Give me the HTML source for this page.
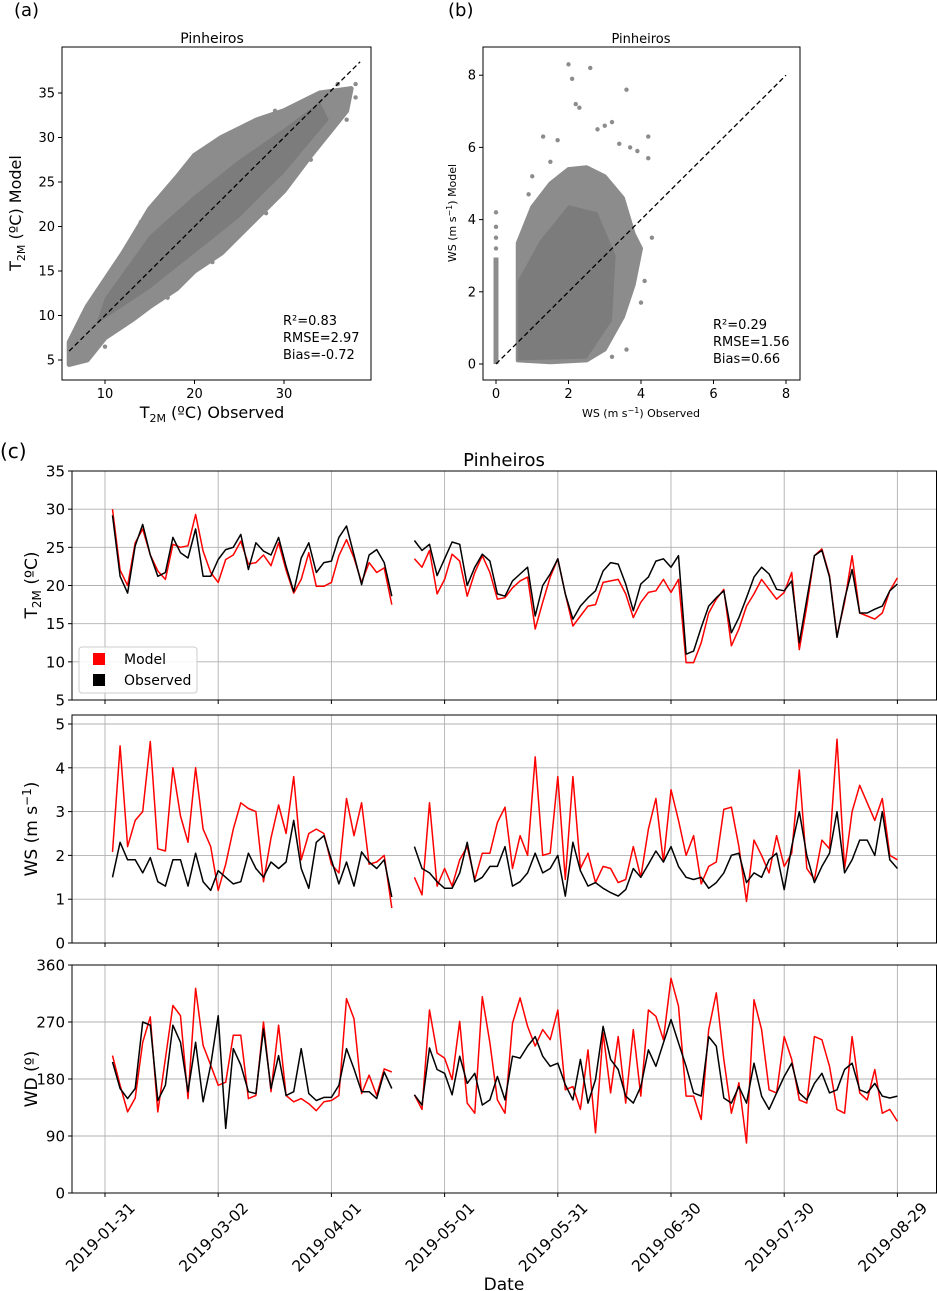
<!DOCTYPE html>
<html><head><meta charset="utf-8">
<style>
html,body{margin:0;padding:0;background:#fff;}
body{position:relative;}
svg{display:block;font-family:"DejaVu Sans","Liberation Sans",sans-serif;}
</style></head>
<body>
<svg id="fig" width="937" height="1291" viewBox="0 0 937 1291" xmlns="http://www.w3.org/2000/svg">
<rect width="937" height="1291" fill="#fff"/>
<g id="pa"></g>
<g id="pb"></g>
<g id="pc"></g>
</svg>
<script>
// ---------- Panel (a) data ----------
const aCloud = [[6,4.5],[8,5],[10,7.5],[13,9.5],[15,11],[18,13],[20,15],[23,17],[25,19],[28,22],[30,24],[33,28],[35,30.5],[37,33],[37.5,35.5],[34,35],[32,34],[30,33],[27,32],[25,31],[23,30],[20,28],[18,25.5],[15,22],[12,17],[10,14],[8,11],[6,7]];
const aCore = [[9,9],[15,13],[20,17],[25,21],[30,26],[35,32],[34,34],[30,31],[25,27.5],[20,23.5],[15,19],[10,12]];
const aPts = [[6,4.5],[6.5,5.5],[7,6],[8,9],[9,12],[10,6.5],[11,15.5],[14,20.5],[16,23],[19,26.5],[24,30.5],[29,33],[36,36],[38,34.5],[37,32],[38,36],[33,27.5],[28,21.5],[22,16],[17,12]];
// ---------- Panel (b) data ----------
const bCloud = [[0.6,0.1],[1.5,0.05],[2.5,0.1],[3,0.4],[3.5,1.3],[3.8,2.2],[4,3.2],[3.8,3.6],[3.5,4.6],[3,5.2],[2.5,5.45],[2,5.4],[1.5,5],[1,4.35],[0.6,3.35]];
const bCore = [[0.6,0.1],[2.5,0.15],[3.2,1.2],[3.3,3],[2.8,4.2],[2,4.4],[1.2,3.4],[0.6,2.3]];
const bColumn = [0, 2.95];
const bPts = [[0,3.2],[0,3.5],[0,3.8],[0,4.2],[1.3,6.3],[1.5,5.6],[1.7,6.2],[2.0,8.3],[2.1,7.9],[2.2,7.2],[2.3,7.1],[2.6,8.2],[2.8,6.5],[3.0,6.6],[3.2,6.7],[3.4,6.1],[3.6,7.6],[3.7,6.0],[3.9,5.9],[4.2,5.7],[4.3,3.5],[4.1,2.3],[4.0,1.7],[3.6,0.4],[3.2,0.2],[1.0,5.2],[0.9,4.7],[4.2,6.3]];
// ---------- Panel (c) data ----------
const dateTicks = ["2019-01-31","2019-03-02","2019-04-01","2019-05-01","2019-05-31","2019-06-30","2019-07-30","2019-08-29"];
const dateTickDays = [0,30,60,90,120,150,180,210];
const seg1Start = 2, seg2Start = 82, dayStep = 2;
const tModel1 = [30,22,20,25.6,27.4,24,21.9,20.8,25.4,25,25.2,29.3,24.5,21.7,20.4,23.4,24,25.8,22.8,23,24,22.6,25.6,22,19,20.8,24.3,19.9,19.9,20.4,23.9,26,23.6,20.4,23,21.7,22.3,17.5];
const tObs1   = [29.2,21.2,19,25.2,28,24,21.2,21.7,26.3,24.3,23.6,27.4,21.2,21.2,23.4,24.7,25,26.7,22.1,25.6,24.5,24,26.3,22.5,19.2,23.6,25.6,21.7,23,23.2,26.3,27.8,24,20.1,24,24.7,23,18.6];
const tModel2 = [23.5,22.4,24.6,18.9,20.8,24.1,23.2,18.6,21.7,23.9,21.7,18.2,18.4,19.7,20.6,21.1,14.3,17.8,21.1,23.5,18.9,14.7,16,17.3,17.5,20.4,20.6,20.8,18.9,15.8,17.8,19.1,19.3,20.8,19.1,20.8,9.9,9.9,12.5,16.4,18.2,19.5,12.1,14.3,17.3,18.9,20.8,19.5,18.2,19.1,21.7,11.6,17.3,23.9,24.8,21.3,13.4,17.8,23.9,16.4,16,15.6,16.4,19.3,21];
const tObs2   = [25.9,24.6,25.4,21.3,23.5,25.7,25.4,20,22.4,24.1,23.2,18.9,18.6,20.6,21.5,22.4,16,20,21.5,23.5,18.9,15.6,17.3,18.4,19.3,21.9,23,22.8,20.2,16.7,20.2,21.1,23.2,23.5,22.4,23.9,11,11.4,14.5,17.3,18.4,19.3,13.8,15.8,18.4,21.1,22.4,21.5,19.5,19.3,20.6,12.5,18.2,23.9,24.6,21.1,13.2,18.2,22.1,16.4,16.4,16.9,17.3,19.3,20.2];
const wModel1 = [2.08,4.5,2.2,2.8,3.0,4.6,2.15,2.1,4,2.9,2.3,4,2.6,2.2,1.2,1.8,2.6,3.2,3.07,3.0,1.4,2.4,3.15,2.5,3.8,1.9,2.5,2.6,2.5,1.8,1.6,3.3,2.45,3.2,1.8,1.85,2.0,0.8];
const wObs1   = [1.5,2.3,1.9,1.9,1.6,1.95,1.4,1.3,1.9,1.9,1.3,2.05,1.4,1.2,1.65,1.5,1.35,1.4,2.05,1.7,1.5,1.85,1.7,1.85,2.8,1.7,1.25,2.3,2.45,1.9,1.35,1.85,1.3,2.08,1.85,1.7,1.9,1.05];
const wModel2 = [1.5,1.1,3.2,1.3,1.7,1.3,1.9,2.2,1.45,2.05,2.05,2.75,3.1,1.7,2.45,2.0,4.25,2.0,2.05,3.8,1.45,3.8,1.7,2.05,1.38,1.75,1.7,1.38,1.45,2.2,1.5,2.6,3.3,1.85,3.5,2.8,2.0,2.45,1.35,1.75,1.85,3.05,3.1,2.2,0.95,2.35,2.0,1.6,2.45,1.75,2.05,3.95,1.7,1.45,2.35,2.15,4.65,1.7,3.0,3.6,3.2,2.8,3.3,2.0,1.9];
const wObs2   = [2.2,1.7,1.6,1.4,1.25,1.25,1.6,2.3,1.4,1.5,1.75,1.75,2.2,1.3,1.4,1.6,2.05,1.6,1.7,2.0,1.07,2.3,1.65,1.3,1.38,1.25,1.15,1.07,1.22,1.7,1.5,1.8,2.1,1.85,2.2,1.75,1.5,1.45,1.5,1.25,1.38,1.6,2.0,2.05,1.38,1.6,1.5,1.9,2.05,1.22,2.2,3.0,2.0,1.38,1.75,2.05,3.0,1.6,1.9,2.35,2.35,2.0,3.0,1.9,1.7];
const dModel1 = [217,170,128,150,238,278,128,212,296,280,149,323,233,202,170,175,249,249,149,154,270,160,265,154,144,149,141,130,144,146,154,307,275,157,186,154,196,191];
const dObs1   = [207,165,149,165,270,265,146,170,265,238,160,238,144,202,280,102,228,202,160,157,259,165,217,154,160,228,157,146,151,151,170,228,196,160,160,149,191,165];
const dModel2 = [155,132,289,221,213,179,271,142,126,310,237,147,126,268,308,263,232,258,242,289,163,168,132,226,95,253,158,247,142,258,153,289,279,242,339,295,153,153,116,258,316,211,126,174,79,305,258,163,158,247,211,147,142,247,242,200,132,126,247,158,147,195,126,132,113];
const dObs2   = [155,139,229,195,189,155,216,173,189,139,147,184,147,216,213,232,247,216,200,205,171,147,211,142,179,263,211,195,153,142,168,226,200,237,274,237,200,158,153,247,232,150,142,168,142,205,153,132,158,184,205,158,147,173,189,158,163,195,205,163,158,173,153,150,153];

const NS = "http://www.w3.org/2000/svg";
function mk(parent, tag, attrs, text){
  const e = document.createElementNS(NS, tag);
  for (const k in attrs) e.setAttribute(k, attrs[k]);
  if (text !== undefined) e.textContent = text;
  parent.appendChild(e);
  return e;
}
const GREY = "#8c8c8c", CORE = "#7c7c7c", GRID = "#b0b0b0";

// ---------- Panel (a) ----------
(function(){
  const g = document.getElementById('pa');
  const xa = v => 15.5 + v*8.95, ya = v => 360 - (v-5)*8.9;
  const poly = mk(g,'polygon',{points:aCloud.map(p=>xa(p[0])+','+ya(p[1])).join(' '),fill:GREY,stroke:GREY,'stroke-width':5,'stroke-linejoin':'round'});
  
  
  const core = mk(g,'polygon',{points:aCore.map(p=>xa(p[0])+','+ya(p[1])).join(' '),fill:CORE});
  
  
  aPts.forEach(p=>{
    const c = mk(g,'circle',{cx:xa(p[0]),cy:ya(p[1]),r:2.2,fill:GREY});
    
    
  });
  const l = mk(g,'line',{x1:xa(6),y1:ya(6),x2:xa(38.5),y2:ya(38.5),stroke:'#000','stroke-width':1.3,'stroke-dasharray':'5,3'});
  
  
  const fr = mk(g,'rect',{x:62,y:47,width:309,height:333,fill:'none',stroke:'#000','stroke-width':1});
  
  
  [10,20,30].forEach(v=>{
    mk(g,'line',{x1:xa(v),y1:380,x2:xa(v),y2:384,stroke:'#000'});
    const t = mk(g,'text',{x:xa(v),y:398,'font-size':13,'text-anchor':'middle'},String(v));
    
    
  });
  [5,10,15,20,25,30,35].forEach(v=>{
    mk(g,'line',{x1:58,y1:ya(v),x2:62,y2:ya(v),stroke:'#000'});
    const t = mk(g,'text',{x:55,y:ya(v)+4.5,'font-size':13,'text-anchor':'end'},String(v));
    
    
  });
})();
// ---------- Panel (b) ----------
(function(){
  const g = document.getElementById('pb');
  const xb = v => 496 + v*36.25, yb = v => 364 - v*36.1;
  const poly = mk(g,'polygon',{points:bCloud.map(p=>xb(p[0])+','+yb(p[1])).join(' '),fill:GREY,stroke:GREY,'stroke-width':4,'stroke-linejoin':'round'});
  
  
  const core = mk(g,'polygon',{points:bCore.map(p=>xb(p[0])+','+yb(p[1])).join(' '),fill:CORE});
  
  
  const col = mk(g,'rect',{x:xb(0)-2.5,y:yb(bColumn[1]),width:5,height:yb(bColumn[0])-yb(bColumn[1]),fill:GREY});
  
  
  bPts.forEach(p=>{
    const c = mk(g,'circle',{cx:xb(p[0]),cy:yb(p[1]),r:2.2,fill:GREY});
    
    
  });
  const l = mk(g,'line',{x1:xb(0),y1:yb(0),x2:xb(8),y2:yb(8),stroke:'#000','stroke-width':1.3,'stroke-dasharray':'5,3'});
  
  
  const fr = mk(g,'rect',{x:483,y:47,width:317,height:333,fill:'none',stroke:'#000','stroke-width':1});
  
  
  [0,2,4,6,8].forEach(v=>{
    mk(g,'line',{x1:xb(v),y1:380,x2:xb(v),y2:384,stroke:'#000'});
    const t = mk(g,'text',{x:xb(v),y:398,'font-size':13,'text-anchor':'middle'},String(v));
    
    
    mk(g,'line',{x1:479,y1:yb(v),x2:483,y2:yb(v),stroke:'#000'});
    const t2 = mk(g,'text',{x:476,y:yb(v)+4.5,'font-size':13,'text-anchor':'end'},String(v));
    
    
  });
})();
// ---------- Panel (c) ----------
(function(){
  const g = document.getElementById('pc');
  const xd = d => 105 + d*3.7733;
  const panels = [
    {name:'temperature', top:471, bot:700, y:v=>700-(v-5)*(229/30), ticks:[5,10,15,20,25,30,35], s:[[tModel1,tObs1],[tModel2,tObs2]]},
    {name:'wind-speed', top:715, bot:943, y:v=>943-v*43.8, ticks:[0,1,2,3,4,5], s:[[wModel1,wObs1],[wModel2,wObs2]]},
    {name:'wind-direction', top:965, bot:1193, y:v=>1193-v*(228/360), ticks:[0,90,180,270,360], s:[[dModel1,dObs1],[dModel2,dObs2]]}
  ];
  panels.forEach(p=>{
    const pg = mk(g,'g',{});
    
    
    dateTickDays.forEach(d=>{
      mk(pg,'line',{x1:xd(d),y1:p.top,x2:xd(d),y2:p.bot,stroke:GRID,'stroke-width':0.9});
      mk(pg,'line',{x1:xd(d),y1:p.bot,x2:xd(d),y2:p.bot+4,stroke:'#000'});
    });
    p.ticks.forEach(v=>{
      mk(pg,'line',{x1:72,y1:p.y(v),x2:937,y2:p.y(v),stroke:GRID,'stroke-width':0.9});
      mk(pg,'line',{x1:68,y1:p.y(v),x2:72,y2:p.y(v),stroke:'#000'});
      const t = mk(pg,'text',{x:65,y:p.y(v)+5.5,'font-size':15,'text-anchor':'end'},String(v));
      
      
    });
    const starts = [seg1Start, seg2Start];
    p.s.forEach((pair,si)=>{
      const cols = ['#ff0000','#000000'];
      pair.forEach((arr,k)=>{
        const pts = arr.map((v,i)=>xd(starts[si]+i*dayStep).toFixed(1)+','+p.y(v).toFixed(1)).join(' ');
        const pl = mk(pg,'polyline',{points:pts,fill:'none',stroke:cols[k],'stroke-width':1.5,'stroke-linejoin':'round'});
        
        
      });
    });
    const fr = mk(pg,'rect',{x:72,y:p.top,width:864.5,height:p.bot-p.top,fill:'none',stroke:'#000','stroke-width':1});
    
    
  });
  dateTicks.forEach((lab,i)=>{
    const x = xd(dateTickDays[i])+31, y = 1209;
    const t = mk(g,'text',{x:x,y:y,'font-size':15.5,'text-anchor':'end',transform:'rotate(-45 '+x+' '+y+')'},lab);
    
    
  });
})();
</script>
<svg style="position:absolute;left:0;top:0" width="937" height="1291" xmlns="http://www.w3.org/2000/svg" font-family="DejaVu Sans, Liberation Sans, sans-serif">
<text x="14" y="16" font-size="18">(a)</text>
<text x="212" y="43" font-size="14" text-anchor="middle">Pinheiros</text>
<text x="212" y="418" font-size="16" text-anchor="middle">T<tspan font-size="11" dy="4">2M</tspan><tspan dy="-4"> (ºC) Observed</tspan></text>
<text transform="translate(21 213) rotate(-90)" font-size="16" text-anchor="middle">T<tspan font-size="11" dy="4">2M</tspan><tspan dy="-4"> (ºC) Model</tspan></text>
<text x="283" y="325" font-size="13">R²=0.83</text>
<text x="283" y="342" font-size="13">RMSE=2.97</text>
<text x="283" y="359" font-size="13">Bias=-0.72</text>
<text x="448" y="16" font-size="18">(b)</text>
<text x="641" y="43" font-size="13" text-anchor="middle">Pinheiros</text>
<text x="641" y="417" font-size="11" text-anchor="middle">WS (m s<tspan font-size="8" dy="-4">−1</tspan><tspan dy="4">) Observed</tspan></text>
<text transform="translate(456 213) rotate(-90)" font-size="11" text-anchor="middle">WS (m s<tspan font-size="8" dy="-4">−1</tspan><tspan dy="4">) Model</tspan></text>
<text x="713" y="329" font-size="13">R²=0.29</text>
<text x="713" y="346" font-size="13">RMSE=1.56</text>
<text x="713" y="363" font-size="13">Bias=0.66</text>
<text x="0" y="458" font-size="20">(c)</text>
<text x="504" y="466" font-size="18" text-anchor="middle">Pinheiros</text>
<text transform="translate(37 585) rotate(-90)" font-size="17" text-anchor="middle">T<tspan font-size="12" dy="4">2M</tspan><tspan dy="-4"> (ºC)</tspan></text>
<text transform="translate(37 829) rotate(-90)" font-size="17" text-anchor="middle">WS (m s<tspan font-size="12" dy="-6">−1</tspan><tspan dy="6">)</tspan></text>
<text transform="translate(37 1079) rotate(-90)" font-size="17" text-anchor="middle">WD (º)</text>
<text x="504" y="1290" font-size="17" text-anchor="middle">Date</text>
<g>
<rect x="79" y="647" width="118" height="46" rx="3" fill="#fff" fill-opacity="0.85" stroke="#ccc"/>
<rect x="93" y="653" width="12" height="12" fill="#ff0000"/>
<text x="124" y="664" font-size="14">Model</text>
<rect x="93" y="674" width="12" height="12" fill="#000"/>
<text x="124" y="685" font-size="14">Observed</text>
</g>
</svg>
</body></html>
